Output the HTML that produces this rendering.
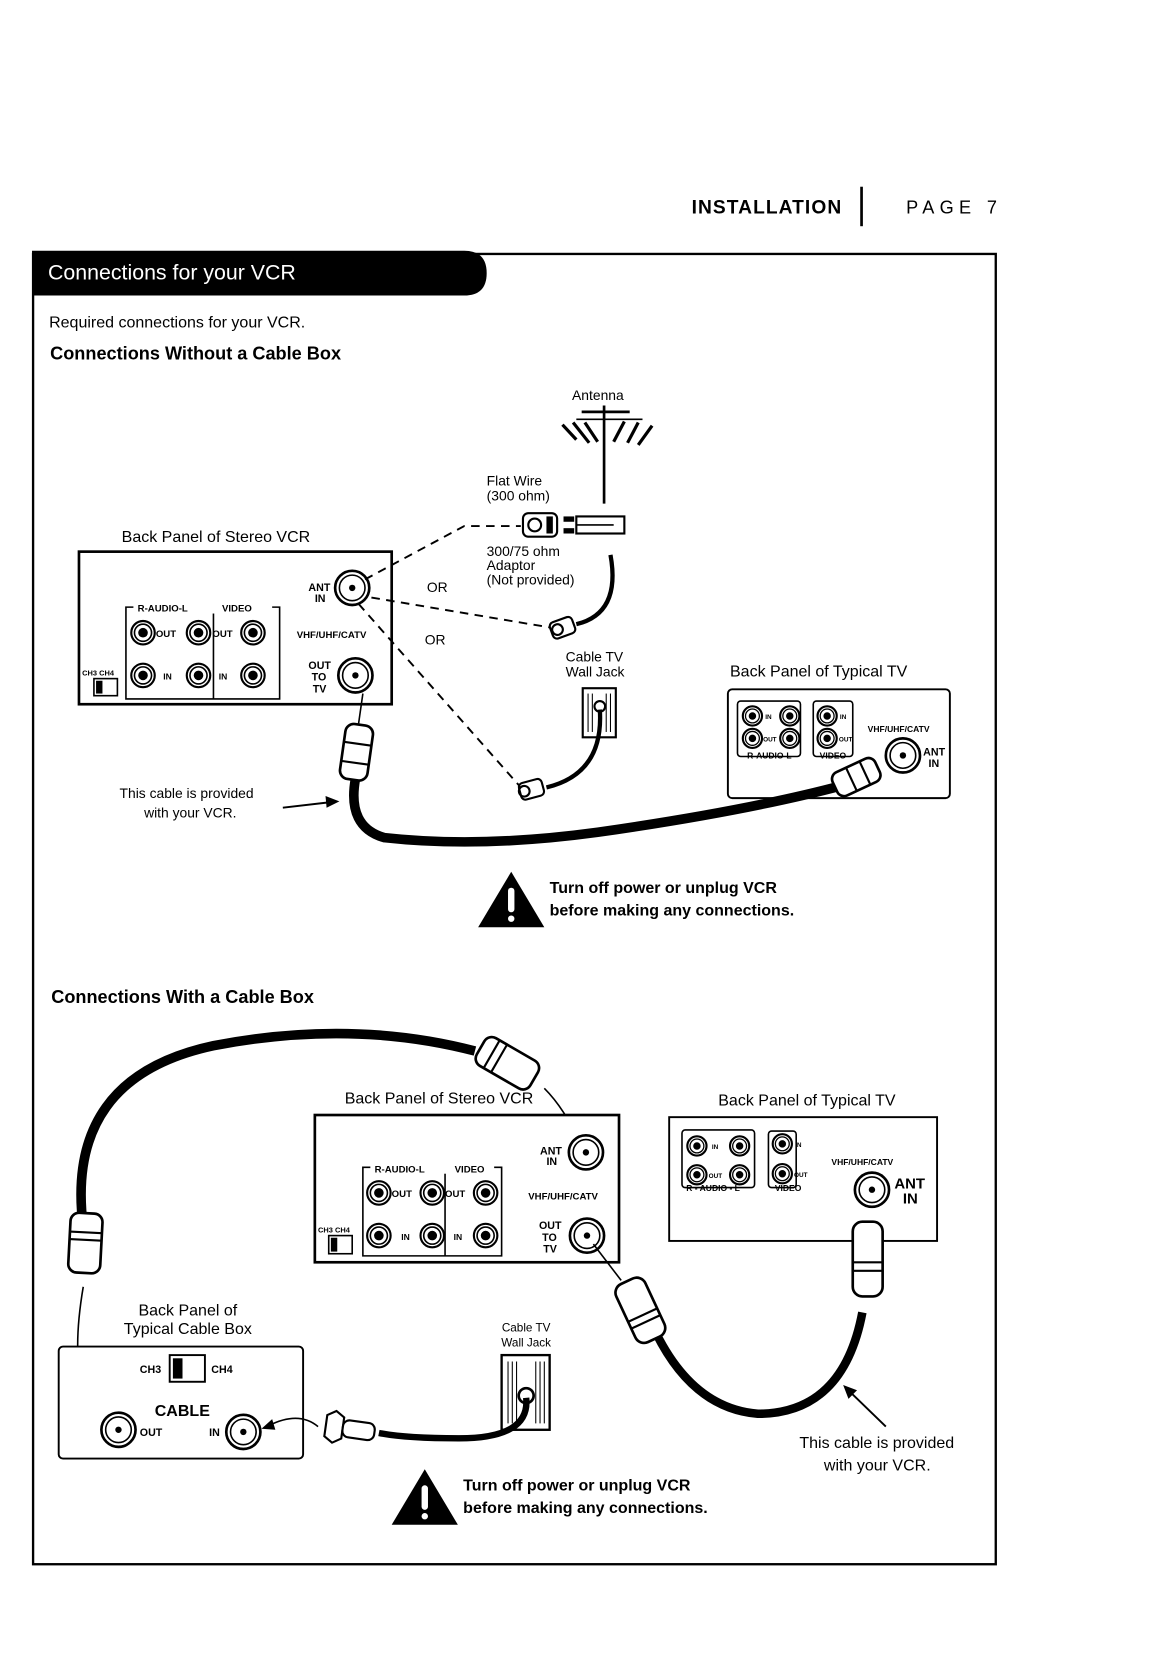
<!DOCTYPE html>
<html><head><meta charset="utf-8"><style>
html,body{margin:0;padding:0;background:#fff;}
svg{display:block;}
text{font-family:"Liberation Sans",sans-serif;fill:#000;}
.c{font-family:"Liberation Sans Narrow","Liberation Sans",sans-serif;}
</style></head><body>
<svg width="1174" height="1672" viewBox="0 0 1100 1567" preserveAspectRatio="none" xmlns="http://www.w3.org/2000/svg">
<defs>
<g id="jk"><circle r="11" fill="#fff" stroke="#000" stroke-width="2"/><circle r="8" fill="none" stroke="#000" stroke-width="1.5"/><circle r="4.5" fill="#000"/></g>
<g id="jks"><circle r="9" fill="#fff" stroke="#000" stroke-width="2"/><circle r="6.5" fill="none" stroke="#000" stroke-width="1.2"/><circle r="3.5" fill="#000"/></g>
<g id="coax"><circle r="16" fill="#fff" stroke="#000" stroke-width="2.5"/><circle r="12" fill="none" stroke="#000" stroke-width="1.5"/><circle r="3" fill="#000"/></g>
<g id="warn"><polygon points="31,0 62,52 0,52" fill="#000"/><rect x="28" y="15" width="6" height="23" rx="3" fill="#fff"/><circle cx="31" cy="44" r="3" fill="#fff"/></g>
</defs>

<!-- header -->
<text x="648" y="200" font-size="18" font-weight="bold" font-family="Liberation Mono,monospace" letter-spacing="1">INSTALLATION</text>
<rect x="806" y="175" width="2.5" height="37" fill="#000"/>
<text x="849" y="200" font-size="17" font-family="Liberation Mono,monospace" letter-spacing="5">PAGE 7</text>

<!-- outer box -->
<rect x="31" y="238" width="902" height="1228" fill="none" stroke="#000" stroke-width="2.2"/>
<path d="M30,235 H435 Q456,235 456,256 Q456,277 435,277 H30 Z" fill="#000"/>
<text x="45" y="262" font-size="20" fill="#fff" style="fill:#fff" class="c">Connections for your VCR</text>
<text x="46" y="307" font-size="15" class="c">Required connections for your VCR.</text>
<text x="47" y="337" font-size="17" font-weight="bold" class="c">Connections Without a Cable Box</text>

<!-- antenna -->
<text x="536" y="375" font-size="13" class="c">Antenna</text>
<line x1="566" y1="380" x2="566" y2="472" stroke="#000" stroke-width="2.5"/>
<line x1="545" y1="386" x2="590" y2="386" stroke="#000" stroke-width="2.5"/>
<line x1="540" y1="393" x2="602" y2="393" stroke="#000" stroke-width="1.5"/>
<g stroke="#000" stroke-width="3">
<line x1="527" y1="398" x2="540" y2="412"/><line x1="537" y1="396" x2="552" y2="415"/><line x1="548" y1="396" x2="560" y2="414"/>
<line x1="585" y1="395" x2="575" y2="414"/><line x1="598" y1="396" x2="588" y2="415"/><line x1="611" y1="399" x2="598" y2="417"/>
</g>
<text x="456" y="455" font-size="13" class="c">Flat Wire</text>
<text x="456" y="469" font-size="13" class="c">(300 ohm)</text>
<!-- adaptor -->
<rect x="490" y="481" width="32" height="22" rx="5" fill="#fff" stroke="#000" stroke-width="2"/>
<circle cx="501" cy="492" r="6" fill="none" stroke="#000" stroke-width="2"/>
<rect x="512" y="484" width="6" height="16" fill="#000"/>
<rect x="528" y="484" width="10" height="5" fill="#000"/><rect x="528" y="495" width="10" height="5" fill="#000"/>
<rect x="540" y="484" width="45" height="16" fill="#fff" stroke="#000" stroke-width="2"/>
<line x1="540" y1="492" x2="575" y2="492" stroke="#000" stroke-width="1.5"/>
<text x="456" y="521" font-size="13" class="c">300/75 ohm</text>
<text x="456" y="534" font-size="13" class="c">Adaptor</text>
<text x="456" y="548" font-size="13" class="c">(Not provided)</text>

<!-- VCR panel 1 -->
<text x="114" y="508" font-size="15" class="c">Back Panel of Stereo VCR</text>
<rect x="74" y="517" width="293" height="143" fill="#fff" stroke="#000" stroke-width="2.5"/>
<path d="M125,569 H118 V655 H262 V569 H255" fill="none" stroke="#000" stroke-width="1.5"/>
<line x1="200" y1="575" x2="200" y2="655" stroke="#000" stroke-width="1.5"/>
<text x="129" y="573" font-size="9" font-weight="bold">R-AUDIO-L</text>
<text x="208" y="573" font-size="9" font-weight="bold">VIDEO</text>
<use href="#jk" x="134" y="593"/><use href="#jk" x="186" y="593"/><use href="#jk" x="237" y="593"/>
<use href="#jk" x="134" y="633"/><use href="#jk" x="186" y="633"/><use href="#jk" x="237" y="633"/>
<text x="146" y="597" font-size="9" font-weight="bold">OUT</text><text x="199" y="597" font-size="9" font-weight="bold">OUT</text>
<text x="153" y="637" font-size="8" font-weight="bold">IN</text><text x="205" y="637" font-size="8" font-weight="bold">IN</text>
<text x="77" y="633" font-size="7" font-weight="bold">CH3 CH4</text>
<rect x="88" y="636" width="22" height="16" fill="#fff" stroke="#000" stroke-width="1.5"/><rect x="90" y="638" width="6" height="12" fill="#000"/>
<use href="#coax" x="330" y="551"/><use href="#coax" x="333" y="633"/>
<text x="289" y="554" font-size="10" font-weight="bold">ANT</text><text x="295" y="564" font-size="10" font-weight="bold">IN</text>
<text x="278" y="598" font-size="9" font-weight="bold">VHF/UHF/CATV</text>
<text x="289" y="627" font-size="10" font-weight="bold">OUT</text><text x="292" y="638" font-size="10" font-weight="bold">TO</text><text x="293" y="649" font-size="10" font-weight="bold">TV</text>

<!-- dashed -->
<g fill="none" stroke="#000" stroke-width="1.8" stroke-dasharray="8,6">
<path d="M342,543 L435,493 H488"/>
<path d="M348,560 L515,588"/>
<path d="M336,566 L488,738"/>
</g>
<text x="400" y="555" font-size="13" class="c">OR</text>
<text x="398" y="604" font-size="13" class="c">OR</text>

<!-- cable from flat wire adaptor -->
<path d="M572,520 Q582,575 540,585" fill="none" stroke="#000" stroke-width="4"/>
<g transform="translate(528,588) rotate(-20)"><rect x="-12" y="-8" width="22" height="16" rx="4" fill="#fff" stroke="#000" stroke-width="2"/><circle cx="-6" r="5" fill="none" stroke="#000" stroke-width="2"/></g>

<!-- wall jack 1 -->
<text x="530" y="620" font-size="13" class="c">Cable TV</text>
<text x="530" y="634" font-size="13" class="c">Wall Jack</text>
<rect x="546" y="645" width="31" height="46" fill="#fff" stroke="#000" stroke-width="2"/>
<g stroke="#000" stroke-width="1"><line x1="551" y1="650" x2="551" y2="686"/><line x1="555" y1="650" x2="555" y2="686"/><line x1="568" y1="650" x2="568" y2="686"/><line x1="572" y1="650" x2="572" y2="686"/></g>
<circle cx="562" cy="662" r="5" fill="#fff" stroke="#000" stroke-width="2"/>
<path d="M562,665 Q566,725 512,738" fill="none" stroke="#000" stroke-width="4"/>
<g transform="translate(497,740) rotate(-15)"><rect x="-10" y="-8" width="22" height="16" rx="4" fill="#fff" stroke="#000" stroke-width="2"/><circle cx="-6" r="5" fill="none" stroke="#000" stroke-width="2"/></g>

<!-- TV panel 1 -->
<text x="684" y="634" font-size="15" class="c">Back Panel of Typical TV</text>
<rect x="682" y="646" width="208" height="102" rx="4" fill="#fff" stroke="#000" stroke-width="1.8"/>
<rect x="691" y="657" width="59" height="52" rx="3" fill="none" stroke="#000" stroke-width="1.5"/>
<rect x="762" y="657" width="37" height="52" rx="3" fill="none" stroke="#000" stroke-width="1.5"/>
<use href="#jks" x="705" y="671"/><use href="#jks" x="740" y="671"/><use href="#jks" x="705" y="692"/><use href="#jks" x="740" y="692"/>
<use href="#jks" x="775" y="671"/><use href="#jks" x="775" y="692"/>
<text x="717" y="674" font-size="6" font-weight="bold">IN</text><text x="715" y="695" font-size="6" font-weight="bold">OUT</text>
<text x="787" y="674" font-size="6" font-weight="bold">IN</text><text x="786" y="695" font-size="6" font-weight="bold">OUT</text>
<text x="700" y="711" font-size="8" font-weight="bold">R-AUDIO-L</text><text x="768" y="711" font-size="8" font-weight="bold">VIDEO</text>
<text x="813" y="686" font-size="8" font-weight="bold">VHF/UHF/CATV</text>
<use href="#coax" x="846" y="708"/>
<text x="865" y="708" font-size="10" font-weight="bold">ANT</text><text x="870" y="719" font-size="10" font-weight="bold">IN</text>

<!-- main cable 1 -->
<line x1="340" y1="650" x2="336" y2="678" stroke="#000" stroke-width="1.5"/>
<path d="M333,730 Q325,775 360,785 Q450,795 560,780 Q700,760 790,736" fill="none" stroke="#000" stroke-width="9" stroke-linecap="round"/>
<g transform="translate(334,705) rotate(8)"><rect x="-13" y="-26" width="26" height="52" rx="8" fill="#fff" stroke="#000" stroke-width="2.5"/><line x1="-13" y1="-8" x2="13" y2="-8" stroke="#000" stroke-width="2"/><line x1="-13" y1="10" x2="13" y2="10" stroke="#000" stroke-width="2"/></g>
<g transform="translate(805,727) rotate(-25)"><rect x="-25" y="-12" width="44" height="24" rx="7" fill="#fff" stroke="#000" stroke-width="2.5"/><line x1="-8" y1="-12" x2="-8" y2="12" stroke="#000" stroke-width="2"/><line x1="6" y1="-12" x2="6" y2="12" stroke="#000" stroke-width="2"/></g>
<text x="112" y="748" font-size="13" class="c">This cable is provided</text>
<text x="135" y="766" font-size="13" class="c">with your VCR.</text>
<line x1="265" y1="757" x2="308" y2="752" stroke="#000" stroke-width="1.8"/><polygon points="318,751 305,746 306,757" fill="#000"/>

<use href="#warn" x="448" y="817"/>
<text x="515" y="837" font-size="15" font-weight="bold" class="c">Turn off power or unplug VCR</text>
<text x="515" y="858" font-size="15" font-weight="bold" class="c">before making any connections.</text>

<!-- Section 2 -->
<text x="48" y="940" font-size="17" font-weight="bold" class="c">Connections With a Cable Box</text>
<path d="M78,1150 Q60,1010 200,980 Q330,955 445,985" fill="none" stroke="#000" stroke-width="9"/>
<g transform="translate(478,998) rotate(30)"><rect x="-32" y="-15" width="58" height="30" rx="8" fill="#fff" stroke="#000" stroke-width="2.5"/><line x1="-20" y1="-15" x2="-20" y2="15" stroke="#000" stroke-width="2"/><line x1="-12" y1="-15" x2="-12" y2="15" stroke="#000" stroke-width="2"/></g>
<path d="M510,1020 Q530,1040 545,1075" fill="none" stroke="#000" stroke-width="1.5"/>
<g transform="translate(80,1165) rotate(3)"><rect x="-15" y="-28" width="30" height="56" rx="8" fill="#fff" stroke="#000" stroke-width="2.5"/><line x1="-15" y1="-10" x2="15" y2="-10" stroke="#000" stroke-width="2"/><line x1="-15" y1="-3" x2="15" y2="-3" stroke="#000" stroke-width="2"/></g>
<path d="M78,1206 Q62,1300 95,1330" fill="none" stroke="#000" stroke-width="1.5"/>
<polygon points="100,1336 88,1331 95,1323" fill="#000"/>

<!-- VCR panel 2 -->
<text x="323" y="1034" font-size="15" class="c">Back Panel of Stereo VCR</text>
<rect x="295" y="1045" width="285" height="138" fill="#fff" stroke="#000" stroke-width="2.5"/>
<path d="M347,1094 H340 V1177 H470 V1094 H463" fill="none" stroke="#000" stroke-width="1.5"/>
<line x1="417" y1="1100" x2="417" y2="1177" stroke="#000" stroke-width="1.5"/>
<text x="351" y="1099" font-size="9" font-weight="bold">R-AUDIO-L</text>
<text x="426" y="1099" font-size="9" font-weight="bold">VIDEO</text>
<use href="#jk" x="355" y="1118"/><use href="#jk" x="405" y="1118"/><use href="#jk" x="455" y="1118"/>
<use href="#jk" x="355" y="1158"/><use href="#jk" x="405" y="1158"/><use href="#jk" x="455" y="1158"/>
<text x="367" y="1122" font-size="9" font-weight="bold">OUT</text><text x="417" y="1122" font-size="9" font-weight="bold">OUT</text>
<text x="376" y="1162" font-size="8" font-weight="bold">IN</text><text x="425" y="1162" font-size="8" font-weight="bold">IN</text>
<text x="298" y="1155" font-size="7" font-weight="bold">CH3 CH4</text>
<rect x="308" y="1158" width="22" height="17" fill="#fff" stroke="#000" stroke-width="1.5"/><rect x="310" y="1160" width="6" height="13" fill="#000"/>
<use href="#coax" x="549" y="1080"/><use href="#coax" x="550" y="1158"/>
<text x="506" y="1082" font-size="10" font-weight="bold">ANT</text><text x="512" y="1092" font-size="10" font-weight="bold">IN</text>
<text x="495" y="1124" font-size="9" font-weight="bold">VHF/UHF/CATV</text>
<text x="505" y="1152" font-size="10" font-weight="bold">OUT</text><text x="508" y="1163" font-size="10" font-weight="bold">TO</text><text x="509" y="1174" font-size="10" font-weight="bold">TV</text>

<!-- TV panel 2 -->
<text x="673" y="1036" font-size="15" class="c">Back Panel of Typical TV</text>
<rect x="627" y="1047" width="251" height="116" fill="#fff" stroke="#000" stroke-width="1.8"/>
<rect x="639" y="1059" width="68" height="54" rx="3" fill="none" stroke="#000" stroke-width="1.5"/>
<rect x="720" y="1060" width="26" height="53" rx="3" fill="none" stroke="#000" stroke-width="1.5"/>
<use href="#jks" x="653" y="1074"/><use href="#jks" x="693" y="1074"/><use href="#jks" x="653" y="1101"/><use href="#jks" x="693" y="1101"/>
<use href="#jks" x="733" y="1072"/><use href="#jks" x="733" y="1100"/>
<text x="667" y="1077" font-size="6" font-weight="bold">IN</text><text x="664" y="1104" font-size="6" font-weight="bold">OUT</text>
<text x="745" y="1075" font-size="6" font-weight="bold">IN</text><text x="744" y="1103" font-size="6" font-weight="bold">OUT</text>
<text x="643" y="1116" font-size="8" font-weight="bold">R - AUDIO - L</text><text x="726" y="1116" font-size="8" font-weight="bold">VIDEO</text>
<text x="779" y="1092" font-size="8" font-weight="bold">VHF/UHF/CATV</text>
<use href="#coax" x="817" y="1115"/>
<text x="838" y="1114" font-size="14" font-weight="bold">ANT</text><text x="846" y="1128" font-size="14" font-weight="bold">IN</text>

<!-- cable VCR out to TV -->
<line x1="556" y1="1166" x2="582" y2="1200" stroke="#000" stroke-width="1.5"/>
<path d="M615,1250 Q650,1320 710,1325 Q790,1325 808,1230" fill="none" stroke="#000" stroke-width="8"/>
<g transform="translate(600,1228) rotate(-25)"><rect x="-15" y="-30" width="30" height="60" rx="9" fill="#fff" stroke="#000" stroke-width="2.5"/><line x1="-15" y1="5" x2="15" y2="5" stroke="#000" stroke-width="2"/><line x1="-15" y1="12" x2="15" y2="12" stroke="#000" stroke-width="2"/></g>
<g transform="translate(813,1183)"><rect x="-14" y="-38" width="28" height="70" rx="9" fill="#fff" stroke="#000" stroke-width="2.5"/><line x1="-14" y1="0" x2="14" y2="0" stroke="#000" stroke-width="2"/><line x1="-14" y1="8" x2="14" y2="8" stroke="#000" stroke-width="2"/></g>
<text x="749" y="1357" font-size="15" class="c">This cable is provided</text>
<text x="772" y="1378" font-size="15" class="c">with your VCR.</text>
<line x1="830" y1="1337" x2="797" y2="1305" stroke="#000" stroke-width="1.8"/><polygon points="790,1298 803,1303 795,1311" fill="#000"/>

<!-- cable box -->
<text x="176" y="1233" font-size="15" text-anchor="middle" class="c">Back Panel of</text>
<text x="176" y="1250" font-size="15" text-anchor="middle" class="c">Typical Cable Box</text>
<rect x="55" y="1262" width="229" height="105" rx="4" fill="#fff" stroke="#000" stroke-width="1.8"/>
<text x="131" y="1287" font-size="10" font-weight="bold">CH3</text>
<rect x="159" y="1270" width="33" height="25" fill="#fff" stroke="#000" stroke-width="1.8"/><rect x="162" y="1273" width="9" height="19" fill="#000"/>
<text x="198" y="1287" font-size="10" font-weight="bold">CH4</text>
<text x="145" y="1327" font-size="15" font-weight="bold">CABLE</text>
<use href="#coax" x="111" y="1340"/><use href="#coax" x="228" y="1342"/>
<text x="131" y="1346" font-size="10" font-weight="bold">OUT</text>
<text x="196" y="1346" font-size="10" font-weight="bold">IN</text>

<!-- wall jack 2 -->
<text x="493" y="1248" font-size="11" text-anchor="middle" class="c">Cable TV</text>
<text x="493" y="1262" font-size="11" text-anchor="middle" class="c">Wall Jack</text>
<rect x="470" y="1270" width="45" height="70" fill="#fff" stroke="#000" stroke-width="2.2"/>
<g stroke="#000" stroke-width="1"><line x1="476" y1="1276" x2="476" y2="1334"/><line x1="480" y1="1276" x2="480" y2="1334"/><line x1="484" y1="1276" x2="484" y2="1334"/><line x1="502" y1="1276" x2="502" y2="1334"/><line x1="506" y1="1276" x2="506" y2="1334"/><line x1="510" y1="1276" x2="510" y2="1334"/></g>
<circle cx="493" cy="1308" r="7" fill="#fff" stroke="#000" stroke-width="2.5"/>
<path d="M493,1310 Q497,1348 430,1348 Q380,1348 355,1343" fill="none" stroke="#000" stroke-width="6"/>
<g transform="translate(333,1340) rotate(8)"><polygon points="-28,-10 -20,-15 -12,-10 -12,10 -20,15 -28,10" fill="#fff" stroke="#000" stroke-width="2"/><rect x="-12" y="-8" width="30" height="16" rx="6" fill="#fff" stroke="#000" stroke-width="2"/></g>
<path d="M298,1337 Q280,1322 252,1336" fill="none" stroke="#000" stroke-width="1.5"/>
<polygon points="245,1339 255,1330 258,1340" fill="#000"/>

<use href="#warn" x="367" y="1377"/>
<text x="434" y="1397" font-size="15" font-weight="bold" class="c">Turn off power or unplug VCR</text>
<text x="434" y="1418" font-size="15" font-weight="bold" class="c">before making any connections.</text>
</svg>
</body></html>
